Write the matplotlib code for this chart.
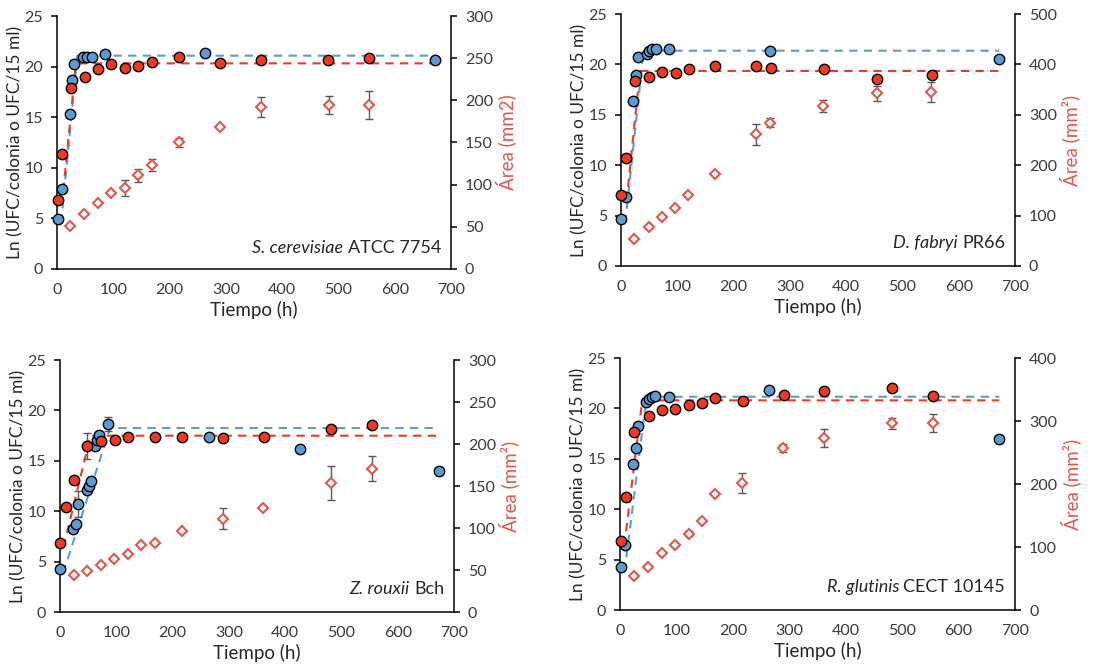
"""Growth curves (Ln UFC) and colony area for four yeasts, 2x2 panels."""

import matplotlib

matplotlib.use("Agg")
import matplotlib.pyplot as plt

plt.rcParams["font.family"] = ["Lato", "DejaVu Sans"]

BLUE = "#5b9bd5"
RED = "#ee3a22"
AREA_RED = "#e2574c"
TICK_GREY = "#3a3a3a"
ERR_GREY = "#595959"

# --- S. cerevisiae ATCC 7754 ---
sc_ml_t = [1, 9, 22.5, 26.6, 31, 47, 54, 62, 86, 263, 672]
sc_ml_y = [4.98, 7.9, 15.3, 18.7, 20.3, 20.9, 20.9, 20.9, 21.2, 21.3, 20.7]
sc_col_t = [1, 9.5, 24, 49, 72, 96.5, 120, 144.5, 169, 217, 289, 362, 482, 553.5]
sc_col_y = [6.8, 11.35, 17.9, 19.0, 19.75, 20.3, 19.9, 20.1, 20.45, 20.9, 20.4, 20.7, 20.7, 20.85]
sc_area_t = [23.7, 48.5, 72, 96.5, 120, 144.5, 169, 216.7, 289, 362, 482.5, 553.5]
sc_area = [51.5, 65.3, 78, 90, 96, 111, 123.5, 150, 168.6, 192, 194, 194.7]
sc_area_err = [0, 0, 0, 0, 9, 8, 7.5, 5, 0, 11.7, 10.7, 16.6]
sc_ml_fit_t = [0, 8, 36, 672]
sc_ml_fit_y = [5.0, 5.0, 21.08, 21.08]
sc_col_fit_t = [0, 9.4, 33.7, 672]
sc_col_fit_y = [6.8, 6.8, 20.32, 20.32]

# --- D. fabryi PR66 ---
df_ml_t = [0, 8, 22, 26.6, 30, 45.6, 50, 55.6, 61.5, 86, 265, 672]
df_ml_y = [4.7, 6.8, 16.4, 18.95, 20.7, 21.0, 21.3, 21.55, 21.55, 21.55, 21.35, 20.55]
df_col_t = [0, 9, 24, 50, 73, 97, 120, 167.5, 239.6, 265.7, 361, 455.6, 552]
df_col_y = [7.0, 10.75, 18.35, 18.8, 19.25, 19.15, 19.55, 19.8, 19.8, 19.6, 19.5, 18.55, 18.9]
df_area_t = [23, 49, 72, 96.5, 119.5, 167.5, 239.6, 264.5, 359, 455.6, 551.5]
df_area = [54, 77, 98, 115, 140, 183, 261, 284, 317, 342.6, 345]
df_area_err = [0, 0, 0, 0, 0, 0, 20, 9, 12, 15, 19.5]
df_ml_fit_t = [0, 8.3, 40, 672]
df_ml_fit_y = [4.7, 4.7, 21.36, 21.36]
df_col_fit_t = [0, 10.8, 33.7, 672]
df_col_fit_y = [7.0, 7.0, 19.35, 19.35]

# --- Z. rouxii Bch ---
zr_ml_t = [0.6, 22.5, 28.4, 31.4, 47.4, 51, 55, 62, 66.3, 70, 85, 264, 425.7, 673]
zr_ml_y = [4.27, 8.23, 8.73, 10.75, 12.07, 12.5, 13.0, 16.5, 17.05, 17.55, 18.65, 17.4, 16.14, 14.0]
zr_ml_err = [0, 0, 0, 1.3, 0, 0, 0, 0, 0, 0, 0.7, 0, 0, 0]
zr_col_t = [0.6, 11, 25, 48.5, 73.4, 97.7, 121.4, 168.7, 216.7, 290, 361.7, 481, 554]
zr_col_y = [6.85, 10.4, 13.1, 16.47, 17.0, 17.06, 17.36, 17.36, 17.36, 17.3, 17.36, 18.19, 18.55]
zr_col_err = [0, 0, 0, 1.3, 0, 0, 0, 0, 0, 0, 0, 0, 0]
zr_area_t = [25, 48.5, 72, 96.5, 120, 144, 168, 216, 289.5, 361, 481, 554]
zr_area = [44.4, 48.8, 56.3, 63, 69, 80, 82.5, 96, 111, 124, 153.6, 170.6]
zr_area_err = [0, 0, 0, 0, 0, 0, 0, 0, 12.3, 0, 20.6, 14.7]
zr_ml_fit_t = [0, 8, 89, 672]
zr_ml_fit_y = [4.3, 4.3, 18.25, 18.25]
zr_col_fit_t = [0, 8, 54, 672]
zr_col_fit_y = [6.85, 6.85, 17.49, 17.49]

# --- R. glutinis CECT 10145 ---
rg_ml_t = [1.8, 9.5, 23, 27.8, 31.3, 46.7, 51.4, 57.3, 62.6, 86.8, 264.6, 671.6]
rg_ml_y = [4.3, 6.48, 14.48, 16.1, 18.25, 20.67, 20.93, 21.13, 21.26, 21.1, 21.86, 16.93]
rg_col_t = [1.2, 10.6, 25.4, 50.8, 73.8, 97.5, 121.7, 145.3, 169, 217.4, 290, 362, 481.4, 554]
rg_col_y = [6.85, 11.18, 17.69, 19.25, 19.8, 19.97, 20.37, 20.57, 21.0, 20.77, 21.33, 21.76, 21.99, 21.23]
rg_area_t = [25.4, 50.2, 73.8, 97.5, 121.7, 144.7, 169, 216, 289.4, 361, 481.4, 554]
rg_area = [54, 68.3, 91, 103.7, 121, 140.7, 183.6, 201.6, 257.7, 273.5, 296.3, 296.8]
rg_area_err = [0, 0, 0, 0, 4, 0, 0, 15.6, 6.6, 14, 9, 14.3]
rg_ml_fit_t = [0, 9, 47, 672]
rg_ml_fit_y = [4.3, 4.3, 21.16, 21.16]
rg_col_fit_t = [0, 8.4, 39.4, 672]
rg_col_fit_y = [6.85, 6.85, 20.8, 20.8]

x_ticks = [0, 100, 200, 300, 400, 500, 600, 700]
y_ticks = [0, 5, 10, 15, 20, 25]


def draw_panel(fig, rect, ml, col, area, fit_ml, fit_col, area_max, area_step,
               area_label, species, strain, text_y):
    ax = fig.add_axes(rect)
    ax2 = ax.twinx()

    ax.plot(*fit_ml, color=BLUE, lw=1.5, ls=(0, (4, 3)), zorder=2)
    ax.plot(*fit_col, color=RED, lw=1.5, ls=(0, (4, 3)), zorder=2)

    for (t, y, err), face in ((ml, BLUE), (col, RED)):
        if err is not None:
            ax.errorbar(t, y, yerr=err, fmt="none", ecolor=ERR_GREY,
                        elinewidth=1, capsize=3, zorder=3)
        ax.plot(t, y, "o", ms=7.5, mfc=face, mec="black", mew=1, ls="none",
                zorder=4, clip_on=False)

    at, ay, aerr = area
    ax2.errorbar(at, ay, yerr=aerr, fmt="none", ecolor=ERR_GREY,
                 elinewidth=1, capsize=3, zorder=3)
    ax2.plot(at, ay, "D", ms=5.5, mfc="white", mec=AREA_RED, mew=1.5,
             ls="none", zorder=4)

    ax.set_xlim(0, 700)
    ax.set_ylim(0, 25)
    ax.set_xticks(x_ticks)
    ax.set_yticks(y_ticks)
    ax2.set_ylim(0, area_max)
    ax2.set_yticks(range(0, area_max + 1, area_step))

    for a in (ax, ax2):
        a.spines["top"].set_visible(False)
        for s in ("left", "right", "bottom"):
            a.spines[s].set_linewidth(1.1)
            a.spines[s].set_color("black")
    ax.spines["right"].set_visible(False)
    ax2.spines["left"].set_visible(False)
    ax2.spines["bottom"].set_visible(False)

    ax.tick_params(axis="x", length=0, pad=10, labelsize=11.5,
                   labelcolor=TICK_GREY)
    ax.tick_params(axis="y", direction="out", length=4, width=1.1, pad=6,
                   labelsize=11.5, labelcolor=TICK_GREY)
    ax2.tick_params(axis="y", direction="out", length=4, width=1.1, pad=6,
                    labelsize=11.5, labelcolor=TICK_GREY)

    ax.set_xlabel("Tiempo (h)", fontsize=13.5, color="#262626", labelpad=3)
    ax.set_ylabel("Ln (UFC/colonia o UFC/15 ml)", fontsize=12.5,
                  color="#262626", labelpad=1)
    ax2.set_ylabel(area_label, fontsize=13.5, color=AREA_RED, labelpad=2)

    plain = ax.text(0.975, text_y, strain, transform=ax.transAxes,
                    ha="right", va="bottom", fontsize=13, color="#262626")
    ax.annotate(species + " ", xy=(0, 0), xycoords=plain, ha="right",
                va="bottom", fontsize=13, style="italic", color="#262626")
    return ax


fig = plt.figure(figsize=(11.16, 6.64), dpi=100)

draw_panel(fig, [0.0511, 0.5949, 0.353, 0.381],
           (sc_ml_t, sc_ml_y, None), (sc_col_t, sc_col_y, None),
           (sc_area_t, sc_area, sc_area_err),
           (sc_ml_fit_t, sc_ml_fit_y), (sc_col_fit_t, sc_col_fit_y),
           300, 50, "Área (mm2)", "S. cerevisiae", "ATCC 7754", 0.05)

draw_panel(fig, [0.5565, 0.5994, 0.353, 0.3795],
           (df_ml_t, df_ml_y, None), (df_col_t, df_col_y, None),
           (df_area_t, df_area, df_area_err),
           (df_ml_fit_t, df_ml_fit_y), (df_col_fit_t, df_col_fit_y),
           500, 100, "Área (mm²)", "D. fabryi", "PR66", 0.06)

draw_panel(fig, [0.0538, 0.0783, 0.353, 0.3795],
           (zr_ml_t, zr_ml_y, zr_ml_err), (zr_col_t, zr_col_y, zr_col_err),
           (zr_area_t, zr_area, zr_area_err),
           (zr_ml_fit_t, zr_ml_fit_y), (zr_col_fit_t, zr_col_fit_y),
           300, 50, "Área (mm²)", "Z. rouxii", "Bch", 0.06)

draw_panel(fig, [0.5556, 0.0813, 0.354, 0.3795],
           (rg_ml_t, rg_ml_y, None), (rg_col_t, rg_col_y, None),
           (rg_area_t, rg_area, rg_area_err),
           (rg_ml_fit_t, rg_ml_fit_y), (rg_col_fit_t, rg_col_fit_y),
           400, 100, "Área (mm²)", "R. glutinis", "CECT 10145", 0.06)

fig.savefig("out.png", dpi=100)
